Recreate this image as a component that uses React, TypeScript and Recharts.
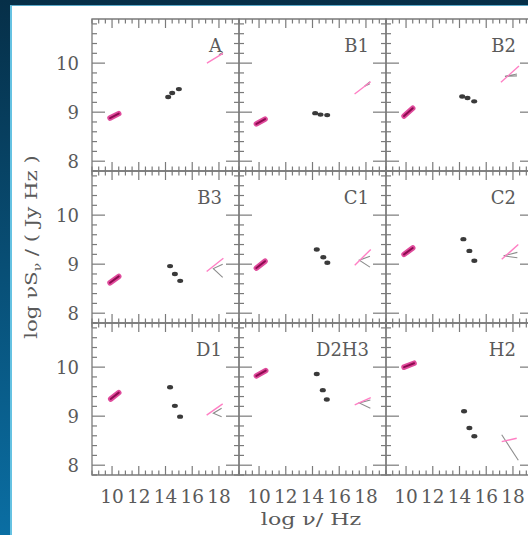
import React from "react";
import { ScatterChart, Scatter, XAxis, YAxis, ReferenceArea } from "recharts";

// panel order: left to right, top to bottom
const panelNames = ["A", "B1", "B2", "B3", "C1", "C2", "D1", "D2H3", "H2"];

// radio spectra [log nu, log nuS] end points
const radio = [
  [[9.85, 8.88], [10.5, 8.97]],
  [[9.8, 8.76], [10.45, 8.86]],
  [[9.85, 8.92], [10.5, 9.08]],
  [[9.85, 8.62], [10.5, 8.75]],
  [[9.8, 8.92], [10.45, 9.06]],
  [[9.85, 9.2], [10.5, 9.33]],
  [[9.9, 9.35], [10.5, 9.48]],
  [[9.8, 9.82], [10.5, 9.93]],
  [[9.85, 10.0], [10.6, 10.08]],
];

// IR / optical / UV points
const optical = [
  [[14.2, 9.31], [14.5, 9.39], [15.0, 9.47]],
  [[14.2, 8.98], [14.6, 8.95], [15.1, 8.94]],
  [[14.2, 9.32], [14.6, 9.29], [15.1, 9.22]],
  [[14.34, 8.96], [14.7, 8.8], [15.1, 8.66]],
  [[14.32, 9.3], [14.81, 9.14], [15.11, 9.03]],
  [[14.29, 9.51], [14.74, 9.27], [15.11, 9.07]],
  [[14.34, 9.59], [14.7, 9.21], [15.09, 8.99]],
  [[14.32, 9.86], [14.77, 9.53], [15.07, 9.34]],
  [[14.34, 9.1], [14.74, 8.76], [15.11, 8.59]],
];

// X-ray best fit
const xrayFit = [
  [[17.1, 10.0], [18.3, 10.2]],
  [[17.15, 9.37], [18.35, 9.62]],
  [[17.1, 9.61], [18.45, 9.94]],
  [[17.08, 8.85], [18.33, 9.12]],
  [[17.16, 8.98], [18.36, 9.3]],
  [[17.16, 9.1], [18.4, 9.4]],
  [[17.08, 9.02], [18.28, 9.25]],
  [[17.16, 9.23], [18.36, 9.38]],
  [[17.16, 8.48], [18.28, 8.55]],
];

// X-ray error range (grey)
const xrayBand = [
  [[18.3, 10.22], [18.0, 10.17], [18.3, 10.18]],
  [[18.3, 9.62], [17.9, 9.53], [18.3, 9.58]],
  [[18.3, 9.78], [17.4, 9.73], [18.3, 9.74]],
  [[18.28, 9.0], [17.58, 8.91], [18.28, 8.73]],
  [[18.3, 9.16], [17.5, 9.08], [18.3, 8.94]],
  [[18.33, 9.24], [17.3, 9.17], [18.33, 9.13]],
  [[18.2, 9.16], [17.58, 9.06], [18.2, 8.99]],
  [[18.33, 9.33], [17.5, 9.27], [18.33, 9.16]],
  [[17.16, 8.62], [18.4, 8.1]],
];

const xMajor = [10, 12, 14, 16, 18];
const xMinor = [8.5, 9, 9.5, 10.5, 11, 11.5, 12.5, 13, 13.5, 14.5, 15, 15.5, 16.5, 17, 17.5, 18.5, 19, 19.5];
const yMajor = [8, 9, 10];
const yMinor = [7.8, 8.2, 8.4, 8.6, 8.8, 9.2, 9.4, 9.6, 9.8, 10.2, 10.4, 10.6, 10.8];

const X_DOMAIN = [8.5, 19.5];
const Y_DOMAIN = [7.8, 10.9];

const COLS = [92, 239, 386];
const ROWS = [19, 171, 323];
const PW = 147;
const PH = 152;
const AXW = 45;
const AXH = 36;
const PAD = 5;

const FONT = "DejaVu Serif";
const TEXT = "#5a5a5a";
const TICK = "#7a7a7a";

const pts = (arr: number[][]) => arr.map(([x, y]) => ({ x, y }));
const noDot = () => <g />;

function Panel({ idx }: { idx: number }) {
  const col = idx % 3;
  const row = Math.floor(idx / 3);
  const showX = row === 2;
  const showY = col === 0;
  const right = AXW + PW;
  const bottom = PAD + PH;

  const xTick = (p: any) => {
    const v = p.payload.value;
    const major = xMajor.includes(v);
    const len = major ? 9 : 4.5;
    return (
      <g>
        <line x1={p.x} y1={bottom} x2={p.x} y2={bottom - len} stroke={TICK} strokeWidth={1.2} />
        <line x1={p.x} y1={PAD} x2={p.x} y2={PAD + len} stroke={TICK} strokeWidth={1.2} />
        {showX && major && (
          <text x={p.x} y={bottom + 28} textAnchor="middle" fontFamily={FONT} fontSize={18.5} fill={TEXT}>
            {v}
          </text>
        )}
      </g>
    );
  };

  const yTick = (p: any) => {
    const v = p.payload.value;
    const major = yMajor.includes(v);
    const len = major ? 13 : 5;
    return (
      <g>
        <line x1={AXW} y1={p.y} x2={AXW + len} y2={p.y} stroke={TICK} strokeWidth={1.2} />
        <line x1={right} y1={p.y} x2={right - len} y2={p.y} stroke={TICK} strokeWidth={1.2} />
        {showY && major && (
          <text x={AXW - 13} y={p.y + 6.5} textAnchor="end" fontFamily={FONT} fontSize={18} fill={TEXT}>
            {v}
          </text>
        )}
      </g>
    );
  };

  return (
    <div style={{ position: "absolute", left: COLS[col] - AXW, top: ROWS[row] - PAD }}>
      <ScatterChart
        width={AXW + PW + PAD}
        height={PAD + PH + AXH}
        margin={{ top: PAD, right: PAD, bottom: 0, left: 0 }}
      >
        <XAxis
          type="number"
          dataKey="x"
          domain={X_DOMAIN}
          allowDataOverflow
          ticks={[...xMajor, ...xMinor]}
          interval={0}
          height={AXH}
          tickSize={0}
          tickMargin={0}
          axisLine={false}
          tickLine={false}
          tick={xTick}
        />
        <YAxis
          type="number"
          dataKey="y"
          domain={Y_DOMAIN}
          allowDataOverflow
          ticks={[...yMajor, ...yMinor]}
          interval={0}
          width={AXW}
          tickSize={0}
          tickMargin={0}
          axisLine={false}
          tickLine={false}
          tick={yTick}
        />
        <ReferenceArea
          x1={X_DOMAIN[0]}
          x2={X_DOMAIN[1]}
          y1={Y_DOMAIN[0]}
          y2={Y_DOMAIN[1]}
          fill="none"
          stroke={TICK}
          strokeWidth={1.3}
        />
        <Scatter
          data={pts(xrayBand[idx])}
          line={{ stroke: "#8c8c8c", strokeWidth: 1.1 }}
          lineType="joint"
          shape={noDot}
          isAnimationActive={false}
        />
        <Scatter
          data={pts(xrayFit[idx])}
          line={{ stroke: "#ff7fc4", strokeWidth: 1.4 }}
          lineType="joint"
          shape={noDot}
          isAnimationActive={false}
        />
        <Scatter
          data={pts(radio[idx])}
          line={{ stroke: "#df4a9b", strokeWidth: 5.5, strokeLinecap: "round" }}
          lineType="joint"
          shape={noDot}
          isAnimationActive={false}
        />
        <Scatter
          data={pts(radio[idx])}
          line={{ stroke: "#8e0a50", strokeWidth: 2, strokeLinecap: "round" }}
          lineType="joint"
          shape={noDot}
          isAnimationActive={false}
        />
        <Scatter
          data={pts(optical[idx])}
          shape={(p: any) => <ellipse cx={p.cx} cy={p.cy} rx={3} ry={2.2} fill="#3a3a3a" />}
          isAnimationActive={false}
        />
      </ScatterChart>
    </div>
  );
}

export default function App() {
  return (
    <div
      style={{
        position: "absolute",
        left: 0,
        top: 0,
        width: 528,
        height: 535,
        overflow: "hidden",
        background: "linear-gradient(#062f48, #0a6ea3)",
      }}
    >
      <div
        style={{
          position: "absolute",
          left: 10,
          top: 5,
          width: 540,
          height: 560,
          background: "#fff",
          borderLeft: "2px solid #66c2e2",
          borderTop: "1px solid #5aa9c9",
        }}
      />
      {panelNames.map((_, i) => (
        <Panel key={i} idx={i} />
      ))}
      <svg
        width={528}
        height={535}
        style={{ position: "absolute", left: 0, top: 0, pointerEvents: "none" }}
      >
        {panelNames.map((name, i) => (
          <text
            key={name}
            x={COLS[i % 3] + PW - 17}
            y={ROWS[Math.floor(i / 3)] + 33}
            textAnchor="end"
            fontFamily={FONT}
            fontSize={18}
            fill={TEXT}
          >
            {name}
          </text>
        ))}
        <text
          transform="translate(37,247) rotate(-90) scale(1.25,1)"
          textAnchor="middle"
          fontFamily={FONT}
          fontSize={17}
          fill={TEXT}
        >
          log νS<tspan dy={4} fontSize={11}>ν</tspan>
          <tspan dy={-4}> / ( Jy Hz )</tspan>
        </text>
        <text
          transform="translate(311,525) scale(1.3,1)"
          textAnchor="middle"
          fontFamily={FONT}
          fontSize={17}
          fill={TEXT}
        >
          log ν/ Hz
        </text>
      </svg>
    </div>
  );
}
